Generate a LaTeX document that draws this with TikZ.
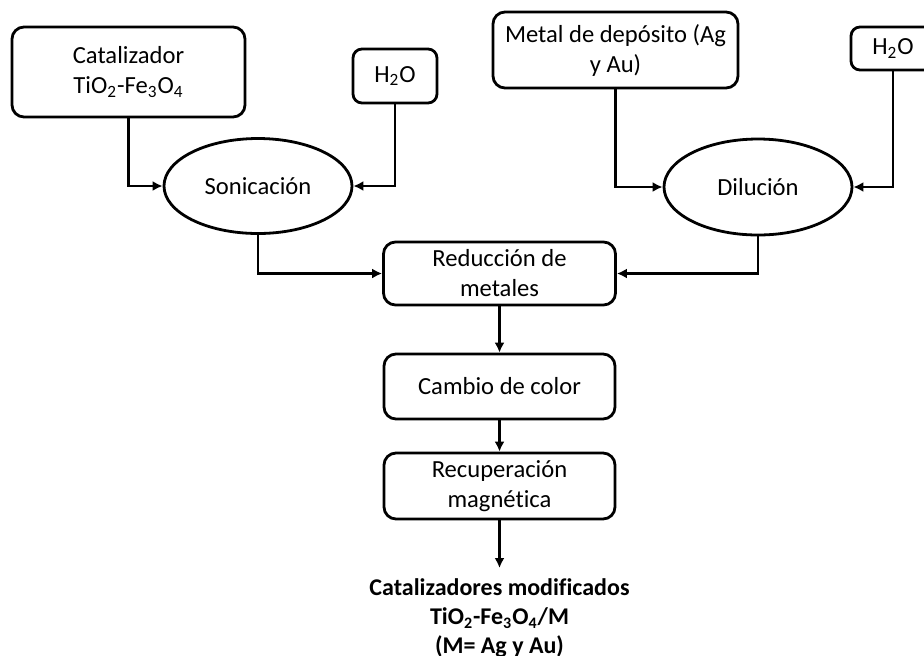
\documentclass[tikz,border=0pt]{standalone}
\usepackage{fontspec}
\setmainfont{Carlito}[Ligatures=NoCommon]
\usetikzlibrary{shapes.geometric,arrows.meta}
\begin{document}
\begin{tikzpicture}[x=0.5pt,y=-0.5pt,
  font=\fontsize{12.3}{15}\selectfont,
  boxnode/.style={draw,line width=1.4pt,rounded corners=6pt,align=center,inner sep=0pt},
  ellnode/.style={draw,ellipse,line width=1.4pt,inner sep=0pt},
  conn/.style={line width=1.1pt,-{Latex[length=5pt,width=5pt]}}]
\clip (0,0) rectangle (924,655);
\fill[white] (0,0) rectangle (924,655);
\node[boxnode,minimum width=116.5pt,minimum height=45pt] (cat) at (128.5,72) {Catalizador\\TiO\textsubscript{2}-Fe\textsubscript{3}O\textsubscript{4}};
\node[boxnode,minimum width=42pt,minimum height=27pt,rounded corners=4.5pt] (h2oL) at (395,76) {H\textsubscript{2}O};
\node[ellnode,minimum width=94pt,minimum height=47.5pt] (son) at (258,186) {Sonicación};
\node[boxnode,minimum width=122.5pt,minimum height=38pt] (met) at (615.5,50) {Metal de depósito (Ag\\y Au)};
\node[boxnode,minimum width=42pt,minimum height=21.5pt,rounded corners=4.5pt] (h2oR) at (893,48.5) {H\textsubscript{2}O};
\node[ellnode,minimum width=94pt,minimum height=48pt] (dil) at (758,187) {Dilución};
\node[boxnode,minimum width=116pt,minimum height=31.5pt] (red) at (499.5,273.5) {Reducción de\\metales};
\node[boxnode,minimum width=115.5pt,minimum height=32.5pt] (cam) at (499.5,386.5) {Cambio de color};
\node[boxnode,minimum width=115.5pt,minimum height=33pt] (rec) at (499.5,486) {Recuperación\\magnética};
\coordinate (endp) at (499.5,568);
\node[align=center,font=\fontsize{12}{14.5}\selectfont\bfseries,anchor=north] (fin) at (499.5,572) {Catalizadores modificados\\TiO\textsubscript{2}-Fe\textsubscript{3}O\textsubscript{4}/M\\(M= Ag y Au)};
\draw[conn] (cat.south) |- (son.west);
\draw[conn] (h2oL.south) |- (son.east);
\draw[conn] (son.south) |- (red.west);
\draw[conn] (met.south) |- (dil.west);
\draw[conn] (h2oR.south) |- (dil.east);
\draw[conn] (dil.south) |- (red.east);
\draw[conn] (red) -- (cam);
\draw[conn] (cam) -- (rec);
\draw[conn] (rec) -- (endp);
\end{tikzpicture}
\end{document}
